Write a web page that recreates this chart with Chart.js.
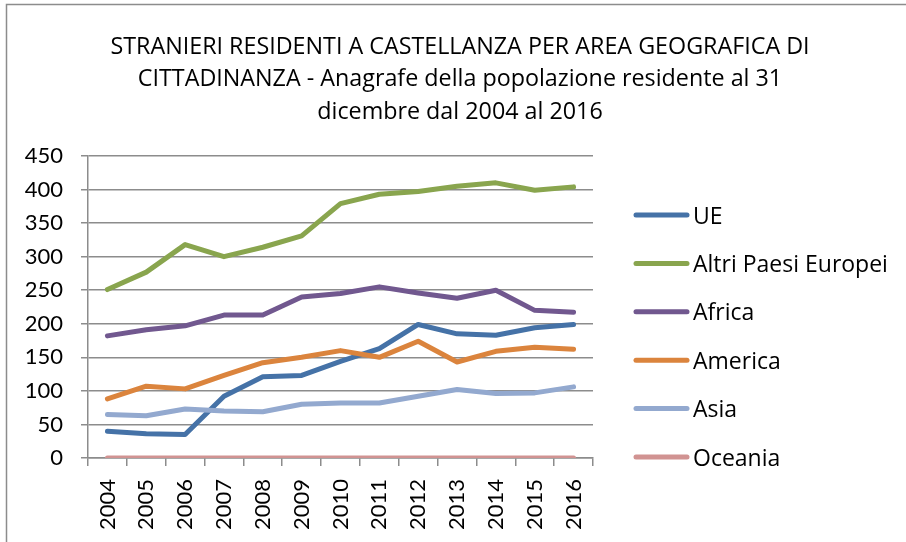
<!DOCTYPE html>
<html>
<head>
<meta charset="utf-8">
<script src="https://cdn.jsdelivr.net/npm/chart.js@4"></script>
<style>
  html, body { margin: 0; padding: 0; background: #fff; }
  #wrap { width: 906px; height: 542px; }
</style>
</head>
<body>
<div id="wrap"><canvas id="chart" width="906" height="542"></canvas></div>
<script>
(function () {
    'use strict';

    // Data.
    var years = ['2004', '2005', '2006', '2007', '2008', '2009', '2010', '2011', '2012', '2013', '2014', '2015', '2016'];
    var ue = [40, 36, 35, 92, 121, 123, 144, 163, 199, 185, 183, 194, 199];
    var altriPaesi = [251, 277, 318, 300, 314, 331, 379, 393, 397, 405, 410, 399, 404];
    var africa = [182, 191, 197, 213, 213, 240, 245, 255, 246, 238, 250, 220, 217];
    var america = [88, 107, 103, 123, 142, 150, 160, 150, 174, 143, 159, 165, 162];
    var asia = [65, 63, 73, 70, 69, 80, 82, 82, 92, 102, 96, 97, 106];
    var oceania = [0, 0, 0, 0, 0, 0, 0, 0, 0, 0, 0, 0, 0];
    var yTicks = [0, 50, 100, 150, 200, 250, 300, 350, 400, 450];

    var titleLines = [
        'STRANIERI RESIDENTI A CASTELLANZA PER AREA GEOGRAFICA DI',
        'CITTADINANZA - Anagrafe della popolazione residente al 31',
        'dicembre dal 2004 al 2016'
    ];

    var FONT = 'Lato, "Open Sans", sans-serif';
    var TEXT_FONT = '"Open Sans", Lato, sans-serif';
    var GRID = '#8c8c8c';

    var series = [
        { label: 'UE', data: ue, color: '#4572A7' },
        { label: 'Altri Paesi Europei', data: altriPaesi, color: '#89A54E' },
        { label: 'Africa', data: africa, color: '#71588F' },
        { label: 'America', data: america, color: '#DB843D' },
        { label: 'Asia', data: asia, color: '#93A9CF' },
        { label: 'Oceania', data: oceania, color: '#D19392' }
    ];

    // Frame, title and legend drawn on the canvas.
    var extras = {
        id: 'extras',
        afterDraw: function (chart) {
            var ctx = chart.ctx;
            ctx.save();
            ctx.strokeStyle = GRID;
            ctx.lineWidth = 1.5;
            ctx.beginPath();
            ctx.moveTo(6.5, 560);
            ctx.lineTo(6.5, 4.5);
            ctx.lineTo(920, 4.5);
            ctx.stroke();

            ctx.fillStyle = '#000';
            ctx.textBaseline = 'middle';
            ctx.textAlign = 'center';
            ctx.font = '23.3px ' + TEXT_FONT;
            titleLines.forEach(function (t, i) {
                ctx.fillText(t, 460, 47 + i * 32.5);
            });

            ctx.font = '23px ' + TEXT_FONT;
            ctx.textAlign = 'left';
            series.forEach(function (s, i) {
                var y = 215 + i * 48.4;
                ctx.strokeStyle = s.color;
                ctx.lineWidth = 5;
                ctx.lineCap = 'round';
                ctx.beginPath();
                ctx.moveTo(636, y);
                ctx.lineTo(687, y);
                ctx.stroke();
                ctx.fillStyle = '#000';
                ctx.fillText(s.label, 693, y + 2);
            });
            ctx.restore();
        }
    };

    new Chart(document.getElementById('chart'), {
        type: 'line',
        data: {
            labels: years,
            datasets: series.map(function (s, i) {
                return {
                    label: s.label,
                    data: s.data,
                    borderColor: s.color,
                    backgroundColor: s.color,
                    borderWidth: 5,
                    borderCapStyle: 'round',
                    borderJoinStyle: 'round',
                    pointRadius: 0,
                    tension: 0,
                    order: series.length - i
                };
            })
        },
        options: {
            responsive: false,
            animation: false,
            layout: { padding: { left: 7, right: 313, top: 156, bottom: 0 } },
            plugins: {
                legend: { display: false },
                tooltip: { enabled: false },
                title: { display: false }
            },
            scales: {
                x: {
                    offset: true,
                    afterFit: function (scale) { scale.height = 84; },
                    grid: {
                        offset: true,
                        drawOnChartArea: false,
                        drawTicks: true,
                        tickLength: 8,
                        color: GRID,
                        lineWidth: 1.5
                    },
                    border: { color: GRID, width: 1.5 },
                    ticks: {
                        color: '#000',
                        font: { family: FONT, size: 22 },
                        minRotation: 90,
                        maxRotation: 90,
                        padding: 13,
                        autoSkip: false
                    }
                },
                y: {
                    min: 0,
                    max: 450,
                    afterFit: function (scale) { scale.width = 81; },
                    afterBuildTicks: function (scale) {
                        scale.ticks = yTicks.map(function (v) { return { value: v }; });
                    },
                    grid: {
                        color: GRID,
                        lineWidth: 1.5,
                        tickLength: 7
                    },
                    border: { color: GRID, width: 1.5 },
                    ticks: {
                        color: '#000',
                        font: { family: FONT, size: 22 },
                        padding: 18
                    }
                }
            }
        },
        plugins: [extras]
    });
})();
</script>
</body>
</html>
